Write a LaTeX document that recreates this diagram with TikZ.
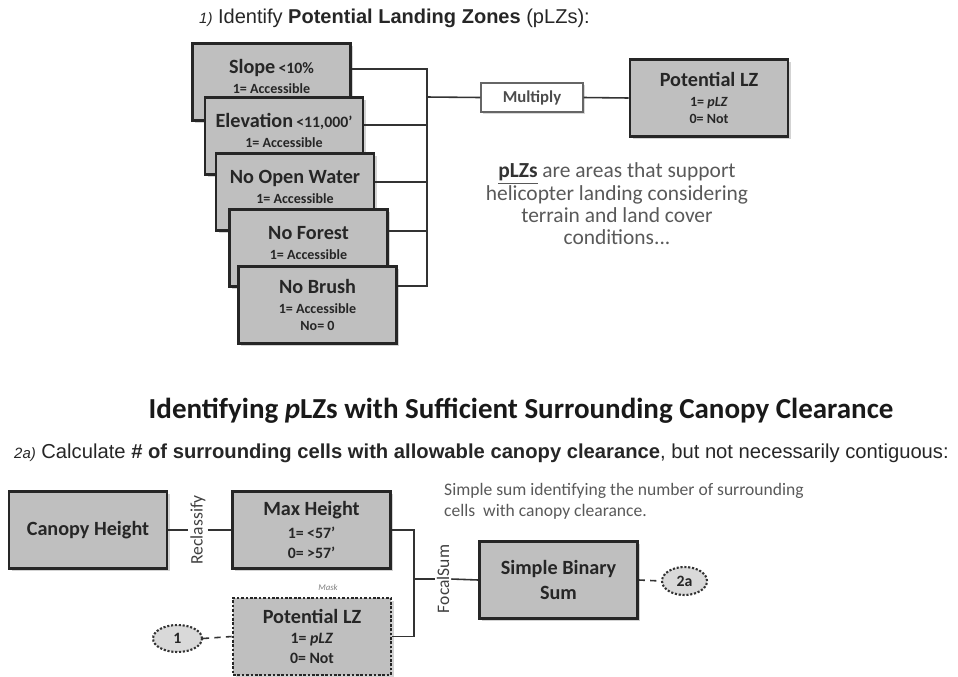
\documentclass[tikz,border=0pt]{standalone}
\usepackage{fontspec}
\setmainfont{Carlito}
\newfontfamily\headfont{Liberation Sans}
\usetikzlibrary{shapes.geometric,shadows}

% font sizes used inside the boxes
\newcommand{\boxtitle}{\fontsize{11.5}{13}\selectfont\bfseries}
\newcommand{\boxmid}{\fontsize{9}{11}\selectfont\bfseries}
\newcommand{\boxsub}{\fontsize{8}{10}\selectfont\bfseries}

\tikzset{
  layer/.style={draw=black!85, line width=1.5pt, fill=black!25, text=black!85,
    minimum width=3.16cm, minimum height=1.54cm, align=center, inner sep=1pt,
    font=\boxsub,
    drop shadow={shadow xshift=1.6pt, shadow yshift=-1.6pt, opacity=0.35}},
  masklayer/.style={layer, densely dotted, drop shadow={opacity=0}},
  opbox/.style={draw=black!60, line width=0.8pt, fill=white, text=black!70,
    font=\fontsize{9.5}{11}\selectfont\bfseries,
    minimum width=2.04cm, minimum height=0.58cm, inner sep=1pt,
    drop shadow={shadow xshift=1.4pt, shadow yshift=-1.4pt, opacity=0.3}},
  wire/.style={draw=black!80, line width=0.9pt},
  link/.style={wire, dash pattern=on 3.5pt off 3pt},
  tag/.style={ellipse, draw=black!80, densely dotted, line width=1.2pt,
    fill=black!15, text=black!85, font=\fontsize{9}{11}\selectfont\bfseries,
    inner sep=0pt},
  tool/.style={rotate=90, text=black!75, font=\fontsize{10}{12}\selectfont,
    inner sep=1pt},
  note/.style={text=black!65}
}

\begin{document}
\begin{tikzpicture}[x=0.02cm, y=-0.02cm]
  \useasboundingbox (0,0) rectangle (958,677);

  % part 1: potential landing zones
  \node[anchor=west, text=black!85] (head1) at (193,18)
    {\headfont\fontsize{11.4}{13}\selectfont{\itshape\fontsize{8.5}{10}\selectfont 1)} Identify \textbf{Potential Landing Zones} (pLZs):};

  % stack of input layers
  \node[layer] (slope) at (271.5,82) {{\boxtitle Slope} {\boxmid<10\%}\\[1.5pt] 1= Accessible\\[-4pt]};
  \node[layer] (elev) at (284,136) {{\boxtitle Elevation} {\boxmid<11,000'}\\[1.5pt] 1= Accessible\\[-4pt]};
  \node[layer] (water) at (295,192) {{\boxtitle No Open Water}\\[1.5pt] 1= Accessible\\[-4pt]};
  \node[layer] (forest) at (308.5,248) {{\boxtitle No Forest}\\[1.5pt] 1= Accessible\\[-4pt]};
  \node[layer] (brush) at (317.5,305) {{\boxtitle No Brush}\\[1.5pt] 1= Accessible\\ No= 0};

  \coordinate (bus) at (427,97);
  \node[opbox] (mult) at (532,97.5) {Multiply};
  \node[layer] (potlz) at (709,98) {{\boxtitle Potential LZ}\\[1.5pt] 1= \textit{pLZ}\\ 0= Not};

  \draw[wire] ([yshift=-0.54cm]slope.north east) -| (bus);
  \draw[wire] ([yshift=-0.58cm]elev.north east) -| (bus);
  \draw[wire] ([yshift=-0.6cm]water.north east) -| (bus);
  \draw[wire] ([yshift=-0.46cm]forest.north east) -| (bus);
  \draw[wire] ([yshift=-0.42cm]brush.north east) -| (bus);
  \draw[wire] (bus) -- (mult.west);
  \draw[wire] (mult.east) -- (potlz.west);

  \node[note, align=center, font=\fontsize{12.2}{12.7}\selectfont] (plznote) at (617,204)
    {\underline{\textbf{\color{black!80}pLZs}} are areas that support\\helicopter landing considering\\terrain and land cover\\conditions...};

  % part 2: canopy clearance
  \node[text=black!90, font=\fontsize{16.5}{19}\selectfont\bfseries] (title2) at (521,411)
    {Identifying \textit{p}LZs with Sufficient Surrounding Canopy Clearance};
  \node[anchor=west, text=black!85] (head2) at (8,453)
    {\headfont\fontsize{11.5}{13}\selectfont{\itshape\fontsize{8.5}{10}\selectfont 2a)} Calculate \textbf{\# of surrounding cells with allowable canopy clearance}, but not necessarily contiguous:};

  \node[layer] (canopy) at (88,530) {\boxtitle Canopy Height};
  \node[tool] (reclass) at (198,530) {Reclassify};
  \node[layer, font=\fontsize{9}{11}\selectfont\bfseries] (maxh) at (311.5,530) {{\boxtitle Max Height}\\[2pt] 1= <57'\\[0pt] 0= >57'};
  \node[masklayer, font=\fontsize{9}{11}\selectfont\bfseries] (potlz2) at (312,636.5) {{\boxtitle Potential LZ}\\[0.5pt] 1= \textit{pLZ}\\[0pt] 0= Not};
  \node[text=black!50, font=\fontsize{5}{6}\selectfont\itshape] (mask) at (328,587) {Mask};
  \node[tag, minimum width=0.98cm, minimum height=0.54cm] (one) at (177.5,638.5) {1};

  \coordinate (fbus) at (414,579);
  \node[tool] (focal) at (443,579) {FocalSum};
  \node[layer] (binsum) at (558.5,580) {\boxtitle Simple Binary\\[4pt] \boxtitle Sum};
  \node[tag, minimum width=0.9cm, minimum height=0.56cm] (twoa) at (684.5,581) {2a};

  \node[note, anchor=north west, align=left, font=\fontsize{10}{12}\selectfont] (sumnote) at (438,477)
    {Simple sum identifying the number of surrounding\\cells~ with canopy clearance.};

  \draw[wire] (canopy.east) -- (reclass.north);
  \draw[wire] (reclass.south) -- (maxh.west);
  \draw[link] (one.east) -- (potlz2.west);
  \draw[wire] (maxh.east) -| (fbus);
  \draw[wire] (potlz2.east) -| (fbus);
  \draw[wire] (fbus) -- (focal.north);
  \draw[wire] (focal.south) -- (binsum.west);
  \draw[link] (binsum.east) -- (twoa.west);
\end{tikzpicture}
\end{document}
